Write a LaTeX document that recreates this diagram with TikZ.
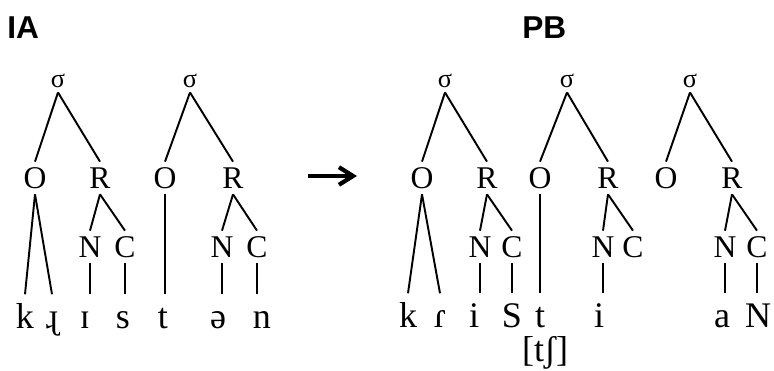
\documentclass[tikz,border=0pt]{standalone}
\usepackage{fontspec}
\setmainfont{Liberation Serif}
\newfontfamily\headfont{Liberation Sans}
\usetikzlibrary{arrows.meta}

\begin{document}
\begin{tikzpicture}[
    x=0.02cm, y=-0.02cm,
    every node/.style={inner sep=0pt},
    title/.style={font=\headfont\bfseries\fontsize{18}{20}\selectfont, anchor=base west},
    syl/.style={font=\fontsize{15}{17}\selectfont, text height=6.5pt, text depth=0pt, inner sep=2.5pt},
    cnode/.style={font=\fontsize{18}{20}\selectfont, text height=11.8pt, text depth=0pt, inner xsep=1pt, inner ysep=3.2pt},
    seg/.style={font=\fontsize{20.5}{23}\selectfont, anchor=base, text height=19pt},
    link/.style={line width=1.1pt},
    arrow/.style={-{Straight Barb[length=8pt, width=10pt, line width=2.4pt]}, line width=2.6pt}
]

\useasboundingbox (0,0) rectangle (774,371);

% ============ IA (LEFT) ============
\node[title] (ia_title) at (7,39) {IA};

% Syllable 1
\node[syl] (ia_s1) at (58,82) {σ};
\node[cnode] (ia_o1) at (35,178) {O};
\node[cnode] (ia_r1) at (100,178) {R};
\node[cnode] (ia_n1) at (90,247) {N};
\node[cnode] (ia_c1) at (125,247) {C};
\node[seg] (ia_k) at (25,328) {k};
\node[seg] (ia_rr) at (52,328) {ɻ};
\node[seg] (ia_i) at (85,328) {ɪ};
\node[seg] (ia_s) at (123,328) {s};

\draw[link] (ia_s1.south) -- (ia_o1.north);
\draw[link] (ia_s1.south) -- (ia_r1.north);
\draw[link] (ia_o1.south) -- (ia_k.north);
\draw[link] (ia_o1.south) -- (ia_rr.north);
\draw[link] (ia_r1.south) -- (ia_n1.north);
\draw[link] (ia_r1.south) -- (ia_c1.north);
\draw[link] (ia_n1.south) -- (ia_n1.south |- ia_i.north);
\draw[link] (ia_c1.south) -- (ia_c1.south |- ia_s.north);

% Syllable 2
\node[syl] (ia_s2) at (190,82) {σ};
\node[cnode] (ia_o2) at (165,178) {O};
\node[cnode] (ia_r2) at (233,178) {R};
\node[cnode] (ia_n2) at (222,247) {N};
\node[cnode] (ia_c2) at (257,247) {C};
\node[seg] (ia_t) at (163,328) {t};
\node[seg] (ia_schwa) at (218,328) {ə};
\node[seg] (ia_n) at (262,328) {n};

\draw[link] (ia_s2.south) -- (ia_o2.north);
\draw[link] (ia_s2.south) -- (ia_r2.north);
\draw[link] (ia_o2.south) -- (ia_o2.south |- ia_t.north);
\draw[link] (ia_r2.south) -- (ia_n2.north);
\draw[link] (ia_r2.south) -- (ia_c2.north);
\draw[link] (ia_n2.south) -- (ia_n2.south |- ia_schwa.north);
\draw[link] (ia_c2.south) -- (ia_c2.south |- ia_n.north);

% ============ ARROW ============
\coordinate (arr_from) at (308,176);
\coordinate (arr_to) at (357,176);
\draw[arrow] (arr_from) -- (arr_to);

% ============ PB (RIGHT) ============
\node[title] (pb_title) at (522,39) {PB};

% Syllable 1
\node[syl] (pb_s1) at (445,82) {σ};
\node[cnode] (pb_o1) at (422,178) {O};
\node[cnode] (pb_r1) at (487,178) {R};
\node[cnode] (pb_n1) at (480,247) {N};
\node[cnode] (pb_c1) at (512,247) {C};
\node[seg] (pb_k) at (408,327) {k};
\node[seg] (pb_tap) at (440,327) {ɾ};
\node[seg] (pb_i1) at (474,327) {i};
\node[seg] (pb_sh) at (512,327) {S};

\draw[link] (pb_s1.south) -- (pb_o1.north);
\draw[link] (pb_s1.south) -- (pb_r1.north);
\draw[link] (pb_o1.south) -- (pb_k.north);
\draw[link] (pb_o1.south) -- (pb_tap.north);
\draw[link] (pb_r1.south) -- (pb_n1.north);
\draw[link] (pb_r1.south) -- (pb_c1.north);
\draw[link] (pb_n1.south) -- (pb_n1.south |- pb_i1.north);
\draw[link] (pb_c1.south) -- (pb_c1.south |- pb_sh.north);

% Syllable 2
\node[syl] (pb_s2) at (567,82) {σ};
\node[cnode] (pb_o2) at (540,178) {O};
\node[cnode] (pb_r2) at (608,178) {R};
\node[cnode] (pb_n2) at (603,247) {N};
\node[cnode] (pb_c2) at (633,247) {C};
\node[seg] (pb_t) at (540,327) {t};
\node[seg] (pb_i2) at (599,327) {i};
\node[seg] (pb_tsh) at (545,361) {[tʃ]};

\draw[link] (pb_s2.south) -- (pb_o2.north);
\draw[link] (pb_s2.south) -- (pb_r2.north);
\draw[link] (pb_o2.south) -- (pb_o2.south |- pb_t.north);
\draw[link] (pb_r2.south) -- (pb_n2.north);
\draw[link] (pb_r2.south) -- (pb_c2.north);
\draw[link] (pb_n2.south) -- (pb_n2.south |- pb_i2.north);

% Syllable 3
\node[syl] (pb_s3) at (690,82) {σ};
\node[cnode] (pb_o3) at (666,178) {O};
\node[cnode] (pb_r3) at (732,178) {R};
\node[cnode] (pb_n3) at (725,247) {N};
\node[cnode] (pb_c3) at (757,247) {C};
\node[seg] (pb_a) at (722,327) {a};
\node[seg] (pb_ng) at (758,327) {N};

\draw[link] (pb_s3.south) -- (pb_o3.north);
\draw[link] (pb_s3.south) -- (pb_r3.north);
\draw[link] (pb_r3.south) -- (pb_n3.north);
\draw[link] (pb_r3.south) -- (pb_c3.north);
\draw[link] (pb_n3.south) -- (pb_n3.south |- pb_a.north);
\draw[link] (pb_c3.south) -- (pb_c3.south |- pb_ng.north);

\end{tikzpicture}
\end{document}
